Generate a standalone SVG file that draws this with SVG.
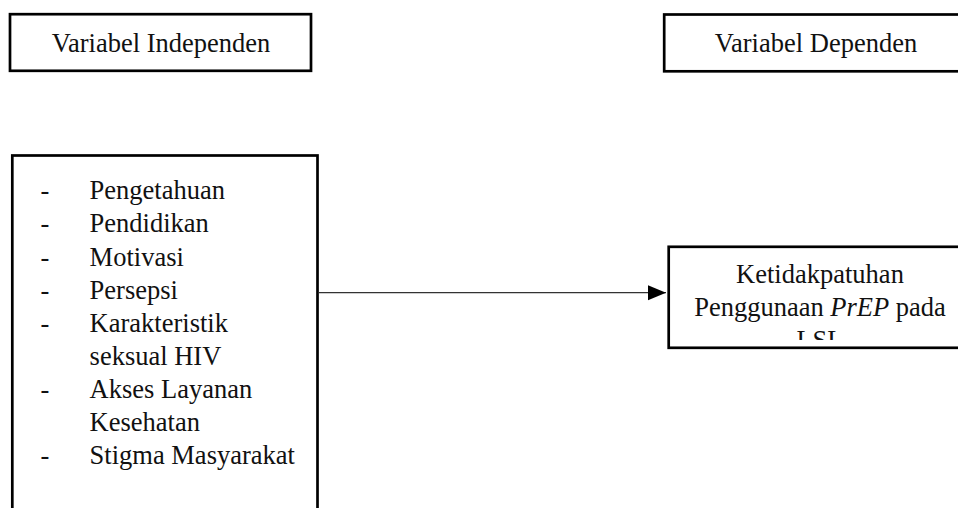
<svg xmlns="http://www.w3.org/2000/svg" width="958" height="508" viewBox="0 0 958 508">
  <style>
    .box { fill: #ffffff; stroke: #000000; stroke-width: 2.7; }
    .t { font-family: "Liberation Serif", "Times New Roman", serif; font-size: 26.5px; fill: #111111; }
    .c { text-anchor: middle; }
    .conn { stroke: #333333; stroke-width: 1.3; fill: none; }
  </style>
  <defs>
    <marker id="arrow" markerUnits="userSpaceOnUse" markerWidth="20" markerHeight="16" refX="18" refY="8" orient="auto">
      <path d="M0,0.5 L18,8 L0,15.5 Z" fill="#000000"/>
    </marker>
    <clipPath id="clipDep">
      <rect x="668" y="246" width="300" height="94"/>
    </clipPath>
  </defs>
  <rect width="958" height="508" fill="#ffffff"/>

  <g id="node-independen-label">
    <rect class="box" x="10" y="14.2" width="301" height="56.6"/>
    <text class="t c" x="161" y="52">Variabel Independen</text>
  </g>

  <g id="node-dependen-label">
    <rect class="box" x="664.2" y="14.5" width="400" height="56.8"/>
    <text class="t c" x="816" y="52">Variabel Dependen</text>
  </g>

  <g id="node-independen-list">
    <rect class="box" x="12.3" y="155.5" width="305.2" height="420"/>
    <text class="t" x="40.6" y="199.3">-</text>
    <text class="t" x="89.6" y="199.3">Pengetahuan</text>
    <text class="t" x="40.6" y="232.4">-</text>
    <text class="t" x="89.6" y="232.4">Pendidikan</text>
    <text class="t" x="40.6" y="265.5">-</text>
    <text class="t" x="89.6" y="265.5">Motivasi</text>
    <text class="t" x="40.6" y="298.6">-</text>
    <text class="t" x="89.6" y="298.6">Persepsi</text>
    <text class="t" x="40.6" y="331.7">-</text>
    <text class="t" x="89.6" y="331.7">Karakteristik</text>
    <text class="t" x="89.6" y="364.8">seksual HIV</text>
    <text class="t" x="40.6" y="397.9">-</text>
    <text class="t" x="89.6" y="397.9">Akses Layanan</text>
    <text class="t" x="89.6" y="431">Kesehatan</text>
    <text class="t" x="40.6" y="464.1">-</text>
    <text class="t" x="89.6" y="464.1">Stigma Masyarakat</text>
  </g>

  <g id="node-dependen">
    <rect class="box" x="668.7" y="246.8" width="400" height="101"/>
    <g clip-path="url(#clipDep)">
      <text class="t c" x="820" y="283.3">Ketidakpatuhan</text>
      <text class="t c" x="820" y="316">Penggunaan <tspan font-style="italic">PrEP</tspan> pada</text>
      <text class="t c" x="820" y="349">LSL</text>
    </g>
  </g>

  <g id="connectors">
    <line class="conn" x1="318.8" y1="292.7" x2="666" y2="292.7" marker-end="url(#arrow)"/>
  </g>
</svg>
